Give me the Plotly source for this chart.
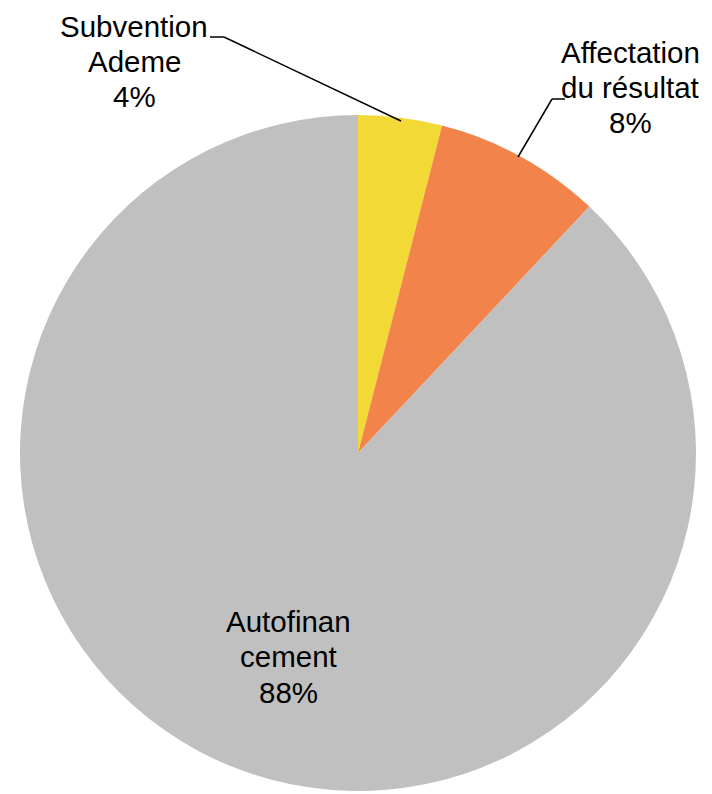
import plotly.graph_objects as go

# Funding sources and their shares (%)
labels = ["Subvention Ademe", "Affectation du résultat", "Autofinancement"]
label_lines = [["Subvention", "Ademe"], ["Affectation", "du résultat"], ["Autofinan", "cement"]]
values = [4, 8, 88]
colors = ["#F3D935", "#F2834A", "#C0C0C0"]

W, H = 712, 794


def px(x, y):
    """Convert pixel coordinates to paper coordinates."""
    return x / W, 1 - y / H


total = sum(values)
pct = [round(v / total * 100) for v in values]

fig = go.Figure(
    go.Pie(
        labels=labels,
        values=values,
        sort=False,
        direction="clockwise",
        rotation=0,
        marker=dict(colors=colors, line=dict(width=0)),
        textinfo="none",
        hoverinfo="label+percent",
        showlegend=False,
        domain=dict(x=[20 / W, 696 / W], y=[3 / H, 679 / H]),
    )
)

# Label placement: centre x and first-line centre y (pixels), tight line spacing
label_pos = [(134, 26), (630, 52), (288, 621)]
line_gap = 35.5
font = dict(family="Liberation Sans, Arial, sans-serif", size=29.5, color="#000000")
for lines, p, (lx, ly) in zip(label_lines, pct, label_pos):
    for i, txt in enumerate(lines + [f"{p}%"]):
        ax, ay = px(lx, ly + i * line_gap)
        fig.add_annotation(
            x=ax, y=ay, xref="paper", yref="paper",
            text=txt, showarrow=False,
            xanchor="center", yanchor="middle", align="center", font=font,
        )

# Leader lines for the two small slices
leaders = [
    [(210, 37), (224, 37), (401, 121)],
    [(565, 99), (552, 99), (518, 157)],
]
for pts in leaders:
    for (x0, y0), (x1, y1) in zip(pts[:-1], pts[1:]):
        a0, b0 = px(x0, y0)
        a1, b1 = px(x1, y1)
        fig.add_shape(
            type="line", xref="paper", yref="paper",
            x0=a0, y0=b0, x1=a1, y1=b1,
            line=dict(color="#000000", width=1.5),
        )

fig.update_layout(
    width=W, height=H,
    margin=dict(l=0, r=0, t=0, b=0),
    paper_bgcolor="white",
    plot_bgcolor="white",
)

fig.write_html("out.html")
